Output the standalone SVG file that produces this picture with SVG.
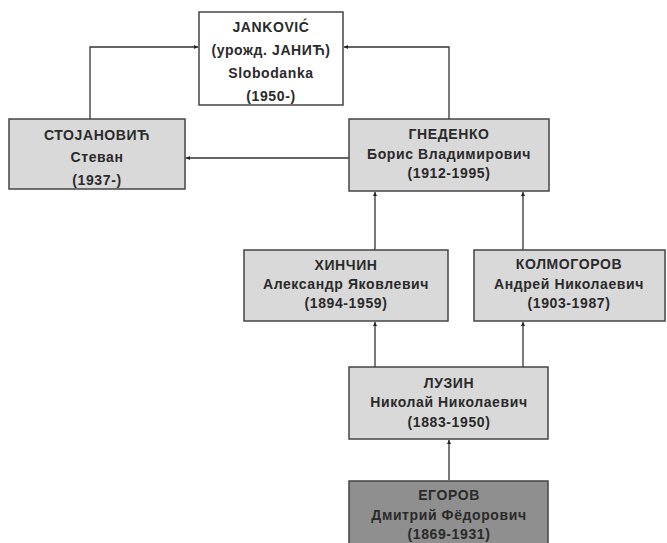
<svg xmlns="http://www.w3.org/2000/svg" width="667" height="543" viewBox="0 0 667 543">
<defs>
<marker id="ah" markerWidth="6" markerHeight="6" refX="4" refY="2.5" orient="auto" markerUnits="userSpaceOnUse">
<path d="M0,0.5 L4,2.5 L0,4.5 Z" fill="#222"/>
</marker>
<style>
.box{fill:#d9d9d9;stroke:#444;stroke-width:1.5}
.white{fill:#ffffff}
.dark{fill:#8f8f8f}
.t{font-family:"Liberation Sans",Arial,sans-serif;font-size:14px;font-weight:bold;letter-spacing:0.6px;fill:#2a2a2a;text-anchor:middle}
.c{fill:none;stroke:#333;stroke-width:1.3;marker-end:url(#ah)}
</style>
</defs>
<rect width="667" height="543" fill="#ffffff"/>
<g id="connectors">
<path class="c" d="M90,119 V47 H198"/>
<path class="c" d="M449,119 V47 H344"/>
<path class="c" d="M349,158 H186"/>
<path class="c" d="M375,250 V192"/>
<path class="c" d="M523,250 V192"/>
<path class="c" d="M375,367 V322"/>
<path class="c" d="M523,367 V322"/>
<path class="c" d="M449,480 V440"/>
</g>
<g id="jankovic">
<rect class="box white" x="199" y="12" width="144" height="93"/>
<text class="t" x="271" y="32">JANKOVIĆ</text>
<text class="t" x="271" y="55">(урожд.  JAНИЋ)</text>
<text class="t" x="271" y="78">Slobodanka</text>
<text class="t" x="271" y="101">(1950-)</text>
</g>
<g id="stojanovic">
<rect class="box" x="9" y="119" width="176" height="70"/>
<text class="t" x="97" y="140">СТОЈАНОВИЋ</text>
<text class="t" x="97" y="162">Стеван</text>
<text class="t" x="97" y="185">(1937-)</text>
</g>
<g id="gnedenko">
<rect class="box" x="349" y="119" width="200" height="72"/>
<text class="t" x="449" y="139">ГНЕДЕНКО</text>
<text class="t" x="449" y="159">Борис Владимирович</text>
<text class="t" x="449" y="178">(1912-1995)</text>
</g>
<g id="khinchin">
<rect class="box" x="244" y="250" width="204" height="71"/>
<text class="t" x="346" y="270">ХИНЧИН</text>
<text class="t" x="346" y="289">Александр Яковлевич</text>
<text class="t" x="346" y="308">(1894-1959)</text>
</g>
<g id="kolmogorov">
<rect class="box" x="474" y="250" width="191" height="71"/>
<text class="t" x="569" y="269">КОЛМОГОРОВ</text>
<text class="t" x="569" y="289">Андрей Николаевич</text>
<text class="t" x="569" y="308">(1903-1987)</text>
</g>
<g id="luzin">
<rect class="box" x="349" y="367" width="199" height="72"/>
<text class="t" x="449" y="388">ЛУЗИН</text>
<text class="t" x="449" y="407">Николай Николаевич</text>
<text class="t" x="449" y="427">(1883-1950)</text>
</g>
<g id="egorov">
<rect class="box dark" x="349" y="481" width="199" height="70"/>
<text class="t" x="449" y="500">ЕГОРОВ</text>
<text class="t" x="449" y="520">Дмитрий Фёдорович</text>
<text class="t" x="449" y="539">(1869-1931)</text>
</g>
</svg>
